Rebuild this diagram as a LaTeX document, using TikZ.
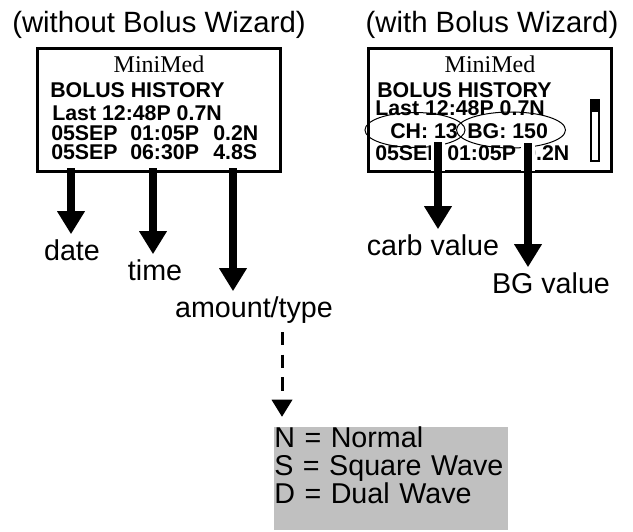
\documentclass[tikz,border=0pt]{standalone}
\usepackage{fontspec}
\setmainfont{Liberation Sans}
\newfontfamily\mmfont{Liberation Serif}
\usetikzlibrary{positioning,arrows.meta}
\definecolor{legendgray}{RGB}{192,192,192}

\begin{document}
\begin{tikzpicture}[x=0.75pt,y=-0.75pt,
    title/.style={font=\fontsize{22}{26}\selectfont,anchor=base,inner sep=0pt},
    screen/.style={draw,line width=2.25pt,minimum width=182.25pt,minimum height=92.25pt,inner sep=0pt},
    brand/.style={font=\mmfont\fontsize{18}{22}\selectfont,anchor=base,inner sep=0pt},
    lcd/.style={font=\fontsize{16}{20}\selectfont\bfseries,anchor=base west,inner sep=0pt},
    lbl/.style={font=\fontsize{21.5}{28}\selectfont,anchor=base,inner sep=0pt,outer sep=4pt},
    legend/.style={font=\fontsize{21.5}{21}\selectfont,fill=legendgray,anchor=base west,inner sep=0pt,
                   text width=175.5pt,align=left,text height=15pt,text depth=62.25pt},
    bigarrow/.style={line width=6pt,-{Triangle[length=17pt,width=21pt,line width=0pt]}},
    typearrow/.style={line width=2.25pt,dash pattern=on 10pt off 7pt,shorten >=7.5pt,
                      -{Triangle[length=12.75pt,width=15.75pt,line width=0pt]}},
    mask/.style={draw=white,line width=10.5pt,shorten >=1.2pt}
  ]
  \useasboundingbox (0,0) rectangle (633,532);

  % left screen
  \node[title] (lt) at (159,32) {(without Bolus Wizard)};
  \node[screen] (ls) at (159,110) {};
  \node[brand] (lb) at (159,72) {MiniMed};
  \node[lcd] (l1) at (50,97) {BOLUS HISTORY};
  \node[lcd] (l2) at (52,120) {Last 12:48P 0.7N};
  \node[lcd] (l3) at (51,140) {05SEP};
  \node[lcd] (l4) at (130,140) {01:05P};
  \node[lcd] (l5) at (213,140) {0.2N};
  \node[lcd] (l6) at (51,159) {05SEP};
  \node[lcd] (l7) at (130,159) {06:30P};
  \node[lcd] (l8) at (213,159) {4.8S};

  \coordinate (d) at (71,168);
  \coordinate (t) at (153,168);
  \coordinate (a) at (233,168);
  \node[lbl] (date) at (72,260) {date};
  \node[lbl] (time) at (155,280) {time};
  \node[lbl] (amount) at (254,317) {amount/type};

  \path (d) edge[bigarrow] (d |- date.north)
        (t) edge[bigarrow] (t |- time.north)
        (a) edge[bigarrow] (a |- amount.north);

  % legend for the type letter
  \node[legend] (leg) at (274,447) {N = Normal\\S = Square Wave\\D = Dual Wave};
  \coordinate (ty) at (282,332);
  \path (ty) edge[typearrow] (ty |- leg.north);

  % right screen
  \node[title] (rt) at (492,32) {(with Bolus Wizard)};
  \node[screen] (rs) at (490,110) {};
  \node[brand] (rb) at (490,72) {MiniMed};
  \node[lcd] (r1) at (377,97) {BOLUS HISTORY};
  \node[lcd] (r2) at (375,115) {Last 12:48P 0.7N};
  \node[lcd] (ch) at (390,138) {CH: 13};
  \node[lcd] (bg) at (467,138) {BG: 150};
  \node[lcd] (r3) at (375,160) {05SEP};
  \node[lcd] (r4) at (447,160) {01:05P};
  \node[lcd] (r5) at (524,160) {0.2N};
  \draw[line width=0.75pt] (415,130) ellipse [x radius=50, y radius=17.5];
  \draw[line width=0.75pt] (511,130) ellipse [x radius=54.5, y radius=18];

  % scroll bar
  \draw[line width=1.5pt] (591,100) rectangle (599,161);
  \fill (590,99) rectangle (600,112);

  \coordinate (c) at (438,142);
  \coordinate (b) at (528,143);
  \node[lbl] (carb) at (433,255) {carb value};
  \node[lbl] (bgv) at (551,293) {BG value};

  \path (c) edge[mask] (c |- rs.south)
        (b) edge[mask] (b |- rs.south);
  \path (c) edge[bigarrow] (c |- carb.north)
        (b) edge[bigarrow] (b |- bgv.north);
\end{tikzpicture}
\end{document}
